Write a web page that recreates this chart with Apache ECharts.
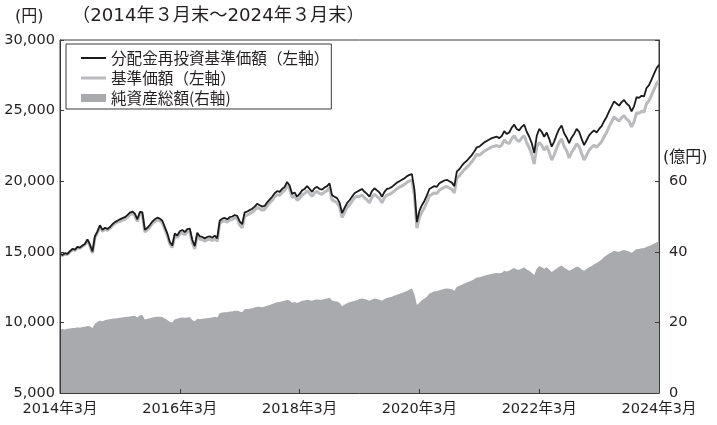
<!DOCTYPE html>
<html>
<head>
<meta charset="utf-8">
<script src="https://cdn.jsdelivr.net/npm/echarts@6/dist/echarts.min.js"></script>
<style>
html,body{margin:0;padding:0;background:#fff}
#chart{width:717px;height:425px}
</style>
</head>
<body>
<div id="chart"></div>
<script>
// Semi-monthly observations, March 2014 to March 2024 (241 points)
const seriesNames = ['分配金再投資基準価額（左軸）', '基準価額（左軸）', '純資産総額(右軸)'];
const tickLabels = ['2014年3月', '2016年3月', '2018年3月', '2020年3月', '2022年3月', '2024年3月'];

// 分配金再投資基準価額 (円)
const navReinvested = [
  14850,14780,14900,14850,15050,15200,15150,15350,15300,15450,15550,15880,
  15500,15020,16100,16450,16880,16550,16700,16620,16750,16950,17100,17200,
  17300,17380,17450,17600,17780,17850,17700,17300,17820,17800,16550,16700,
  16900,17150,17300,17420,17350,17200,16750,16300,15700,15450,16300,16150,
  16450,16550,16400,16600,16650,15850,15400,16350,16100,16050,15950,16050,
  16100,16000,16150,15950,17200,17350,17400,17300,17450,17500,17600,17550,
  17150,16950,17800,17850,17950,18050,18200,18400,18300,18200,18250,18500,
  18700,18900,19150,19300,19250,19450,19600,19950,19700,19100,19200,18900,
  19100,19350,19450,19650,19450,19250,19500,19600,19450,19400,19550,19650,
  19850,19000,18900,18800,18500,17750,18100,18450,18650,18900,19150,19250,
  19350,19450,19250,19100,18900,19300,19500,19350,19200,18900,19250,19450,
  19500,19600,19750,19900,20000,20100,20200,20350,20450,20500,19400,17100,
  17900,18300,18600,19000,19450,19550,19650,19600,19850,19950,20050,20100,
  20000,19900,19650,20700,20850,21100,21300,21450,21650,21850,22100,22400,
  22450,22600,22750,22850,22950,23050,23100,23150,23050,23200,23550,23350,
  23450,23800,24000,23700,23600,23850,24000,23500,23150,22700,22000,23200,
  23700,23500,23150,23450,23000,22450,22800,23300,23700,23950,23400,23100,
  22700,23100,23350,23700,23500,23000,22550,22900,23250,23450,23600,23450,
  23700,23900,24250,24550,24950,25300,25650,25500,25350,25600,25750,25500,
  25350,24950,25300,25950,25900,26050,26000,26600,26800,27200,27600,28000,
  28250
];

// 基準価額 (円)
const navBase = [
  14800,14730,14850,14800,15000,15150,15100,15300,15250,15400,15500,15830,
  15400,14920,16000,16350,16780,16450,16600,16520,16650,16850,17000,17100,
  17150,17230,17300,17450,17630,17700,17550,17150,17670,17650,16400,16550,
  16750,17000,17150,17270,17200,17050,16600,16150,15550,15300,16150,16000,
  16250,16350,16200,16400,16450,15650,15200,16150,15900,15850,15750,15850,
  15900,15800,15950,15750,17000,17150,17200,17100,17250,17300,17400,17350,
  16900,16700,17550,17600,17700,17800,17950,18150,18050,17950,18000,18250,
  18450,18650,18900,19050,19000,19200,19350,19700,19450,18850,18950,18650,
  18780,19030,19130,19330,19130,18930,19180,19280,19130,19080,19230,19330,
  19530,18680,18580,18480,18180,17430,17780,18130,18330,18580,18830,18930,
  18920,19020,18820,18670,18470,18870,19070,18920,18770,18470,18820,19020,
  19070,19170,19320,19470,19570,19670,19770,19920,20020,20070,18970,16670,
  17420,17820,18120,18520,18970,19070,19170,19120,19370,19470,19570,19620,
  19520,19420,19170,20220,20370,20620,20820,20970,21170,21370,21620,21920,
  21830,21980,22130,22230,22330,22430,22480,22530,22430,22580,22930,22730,
  22670,23020,23220,22920,22820,23070,23220,22720,22370,21920,21220,22420,
  22750,22550,22200,22500,22050,21500,21850,22350,22750,23000,22450,22150,
  21650,22050,22300,22650,22450,21950,21500,21850,22200,22400,22550,22400,
  22600,22800,23150,23450,23850,24200,24550,24400,24250,24500,24650,24400,
  24250,23850,24200,24850,24800,24950,24900,25500,25700,26100,26500,26900,
  27150
];

// 純資産総額 (億円)
const netAssets = [
  18.0,18.1,18.0,18.2,18.3,18.4,18.4,18.6,18.5,18.7,18.8,19.0,
  18.9,18.4,19.6,20.2,20.5,20.3,20.6,20.8,20.9,21.0,21.1,21.2,
  21.3,21.4,21.5,21.6,21.7,21.8,21.9,21.4,22.0,22.1,20.8,21.0,
  21.2,21.4,21.5,21.6,21.6,21.5,21.1,20.7,20.2,20.0,20.9,21.0,
  21.3,21.4,21.3,21.4,21.5,20.7,20.3,21.0,20.9,21.0,21.1,21.2,
  21.3,21.4,21.6,21.4,22.6,22.8,22.9,22.9,23.1,23.1,23.3,23.3,
  23.1,22.9,23.7,23.8,23.9,24.0,24.2,24.4,24.4,24.3,24.5,24.7,
  24.9,25.2,25.5,25.7,25.8,26.0,26.1,26.4,26.2,25.6,25.8,25.5,
  25.8,26.1,26.2,26.4,26.3,26.1,26.4,26.5,26.4,26.4,26.6,26.8,
  27.0,26.2,26.0,25.9,25.6,24.6,25.0,25.4,25.7,25.9,26.1,26.3,
  26.6,26.8,26.6,26.4,26.1,26.5,26.8,26.6,26.4,26.1,26.6,26.9,
  27.1,27.3,27.6,27.8,28.1,28.3,28.6,28.9,29.3,29.6,28.0,24.9,
  25.6,26.3,26.8,27.3,28.2,28.5,28.8,28.8,29.1,29.3,29.5,29.6,
  29.5,29.4,29.0,30.1,30.4,30.7,31.0,31.3,31.6,31.9,32.3,32.7,
  32.8,33.0,33.2,33.4,33.6,33.8,33.9,34.0,33.9,34.1,34.6,34.4,
  34.6,35.1,35.4,35.0,34.9,35.3,35.6,35.0,34.6,34.1,33.4,35.2,
  36.0,35.6,35.2,35.6,35.0,34.3,34.8,35.3,35.8,36.1,35.5,35.1,
  34.6,35.0,35.4,35.8,35.6,35.0,34.6,35.1,35.6,36.0,36.5,36.8,
  37.3,37.8,38.5,39.0,39.5,39.9,40.3,40.1,40.0,40.3,40.5,40.3,
  40.1,39.7,40.2,40.8,40.8,41.0,41.0,41.4,41.6,41.9,42.3,42.7,
  43.0
];

// Category labels: even index = month end, odd index = mid-month of the following month
const periods = navReinvested.map((_, i) => {
  const m = 2 + Math.ceil(i / 2);
  const y = 2014 + Math.floor(m / 12);
  const mo = (m % 12) + 1;
  return i % 2 === 0 ? y + '年' + mo + '月' : y + '年' + mo + '月中旬';
});
const LABEL_STEP = 48; // two years of semi-monthly points

const FONT = '"DejaVu Sans","Noto Sans CJK JP",sans-serif';
const CJK = '"Noto Sans CJK JP",sans-serif';
const AXIS = '#3a3a3a';
const TXT = '#231f20';

const chart = echarts.init(document.getElementById('chart'), null, {renderer: 'canvas'});
chart.setOption({
  animation: false,
  backgroundColor: '#ffffff',
  textStyle: {fontFamily: FONT},
  grid: {left: 60, right: 58, top: 40, bottom: 32, show: true, borderColor: AXIS, borderWidth: 1, containLabel: false},
  legend: {
    left: 66, top: 44, orient: 'vertical',
    padding: [6, 2, 3, 15], itemGap: 4, itemWidth: 25, itemHeight: 8,
    borderColor: AXIS, borderWidth: 1, backgroundColor: '#ffffff',
    selectedMode: false, symbolKeepAspect: true,
    itemStyle: {borderWidth: 0},
    textStyle: {fontFamily: CJK, fontSize: 15.6, color: TXT, lineHeight: 16},
    data: [
      {name: seriesNames[0], icon: 'path://M0,0H25V2H0Z'},
      {name: seriesNames[1], icon: 'path://M0,0H25V3H0Z'},
      {name: seriesNames[2], icon: 'rect'}
    ]
  },
  graphic: [
    {type: 'text', left: 15, top: 9, style: {text: '(円)', fontSize: 16, fontFamily: FONT, fill: TXT}},
    {type: 'text', left: 72, top: 7, style: {text: '（2014年３月末～2024年３月末）', fontSize: 18.2, fontFamily: FONT, fill: TXT}},
    {type: 'text', left: 663, top: 150, style: {text: '(億円)', fontSize: 16, fontFamily: FONT, fill: TXT}}
  ],
  xAxis: {
    type: 'category', data: periods, boundaryGap: false, z: 5,
    axisLine: {lineStyle: {color: AXIS, width: 1}},
    axisTick: {inside: true, length: 4, interval: (i) => i % LABEL_STEP === 0, lineStyle: {color: AXIS}},
    axisLabel: {
      interval: (i) => i % LABEL_STEP === 0,
      formatter: (v, i) => tickLabels[i / LABEL_STEP] || v,
      fontSize: 14.5, color: TXT, margin: 9, fontFamily: FONT
    },
    splitLine: {show: false}
  },
  yAxis: [
    {
      type: 'value', min: 5000, max: 30000, interval: 5000, position: 'left', z: 5,
      axisLine: {show: true, lineStyle: {color: AXIS, width: 1}},
      axisTick: {show: true, inside: true, length: 4, lineStyle: {color: AXIS}},
      axisLabel: {formatter: (v) => v.toLocaleString('en-US'), fontSize: 14.5, color: TXT, margin: 5, fontFamily: FONT},
      splitLine: {show: false}
    },
    {
      type: 'value', min: 0, max: 100, interval: 20, position: 'right', z: 5,
      axisLine: {show: true, lineStyle: {color: AXIS, width: 1}},
      axisTick: {show: true, inside: true, length: 4, lineStyle: {color: AXIS}},
      axisLabel: {formatter: (v) => (v <= 60 ? String(v) : ''), fontSize: 14.5, color: TXT, margin: 10, fontFamily: FONT},
      splitLine: {show: false}
    }
  ],
  series: [
    {
      name: seriesNames[2], type: 'line', yAxisIndex: 1, data: netAssets,
      symbol: 'none', showSymbol: false, z: 1,
      lineStyle: {width: 0, color: '#a9aaad'},
      itemStyle: {color: '#a9aaad'},
      areaStyle: {color: '#a9aaad', opacity: 1}
    },
    {
      name: seriesNames[1], type: 'line', yAxisIndex: 0, data: navBase,
      symbol: 'none', showSymbol: false, z: 2,
      lineStyle: {width: 3, color: '#babbbe'},
      itemStyle: {color: '#babbbe'}
    },
    {
      name: seriesNames[0], type: 'line', yAxisIndex: 0, data: navReinvested,
      symbol: 'none', showSymbol: false, z: 3,
      lineStyle: {width: 1.8, color: '#1b1b1b'},
      itemStyle: {color: '#1b1b1b'}
    }
  ]
});
</script>
</body>
</html>
